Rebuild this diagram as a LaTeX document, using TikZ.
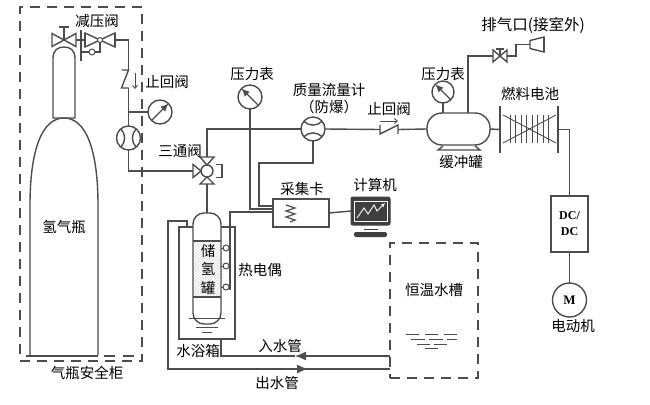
\documentclass[tikz,border=0pt]{standalone}
\usepackage{fontspec}
\setmainfont{Liberation Serif}
\newfontfamily\cjk{Noto Sans CJK SC}
\usepackage{tikz}
\usetikzlibrary{arrows.meta,patterns}
\definecolor{linegray}{HTML}{4D4D4D}
\definecolor{screengray}{HTML}{3F3F3F}
\tikzset{%
  pipe/.style={draw=linegray,line width=1.4pt},
  thinline/.style={draw=linegray,line width=0.9pt},
  flowtip/.style={pipe,-{Latex[length=11pt,width=9pt]}},
  lbl/.style={inner sep=0pt,font=\cjk\fontsize{14.5}{16}\selectfont},
  dashbox/.style={draw=linegray,line width=1.4pt,dash pattern=on 10pt off 7pt,inner sep=0pt,outer sep=0pt},
  solidbox/.style={draw=linegray,line width=1.4pt,inner sep=0pt,outer sep=0pt,fill=white},
  gauge/.style={circle,draw=linegray,line width=1.4pt,minimum size=24pt,inner sep=0pt,outer sep=0pt,fill=white},
  blank/.style={inner sep=0pt,outer sep=0pt},
  needle/.style={draw=linegray,line width=1.2pt,-{Latex[length=8pt,width=7pt]}},
  sensor/.style={circle,draw=linegray,line width=1pt,minimum size=6pt,inner sep=0pt,outer sep=0pt,fill=white},
  waterline/.style={draw=linegray,line width=0.9pt}
}
\begin{document}
\begin{tikzpicture}[x=1pt,y=-1pt]
\useasboundingbox (0,0) rectangle (650,404);

% safety cabinet and cylinder
\node[dashbox,minimum width=122pt,minimum height=354pt] (cabinet) at (81,184) {};
\draw[pipe] (30,355) -- (30,205) .. controls (30,150) and (42,118) .. (64,118)
  .. controls (86,118) and (98,150) .. (98,205) -- (98,355);
\draw[pipe] (53,118) -- (53,58) .. controls (53,50) and (58,47) .. (64,47)
  .. controls (70,47) and (75,50) .. (75,58) -- (75,118) -- cycle;
\draw[draw=linegray,line width=2pt] (26,356) -- (98,356);
\draw[draw=linegray,line width=2.4pt,dash pattern=on 11pt off 8pt] (104,356) -- (136,356);
\node[lbl] (h2label) at (64,227) {氢气瓶};
\node[lbl] (cablabel) at (87,373) {气瓶安全柜};

% cylinder valve and regulator
\node[blank,minimum width=24pt,minimum height=13pt] (mainv) at (64,40) {};
\node[blank,minimum width=30pt,minimum height=14pt] (redv) at (100,40) {};
\coordinate (regbar) at (81,30);
\draw[pipe] (mainv.center) -- ++(0,-13) ++(-5,0) -- ++(10,0);
\draw[pipe] (mainv.east) -- (redv.west);
\draw[pipe] (regbar) -- ++(0,31);
\draw[pipe] (mainv.north west) -- (mainv.south east) -- (mainv.north east) -- (mainv.south west) -- cycle;
\draw[pipe] (redv.north west) -- (redv.south east) -- (redv.north east) -- (redv.south west) -- cycle;
\draw[draw=linegray,line width=2.4pt] (redv.north west) -- (redv.south west);
\draw[draw=linegray,line width=2.4pt] (redv.north east) -- (redv.south east);
\node[sensor] (pilot) at (92,52) {};
\node[sensor,minimum size=5pt] (redcore) at (redv.center) {};
\draw[pipe] (pilot.west) -- (pilot.west -| regbar);
\draw[pipe] (pilot.east) -| (redcore.south);
\node[lbl] (redlabel) at (97,21) {减压阀};

% check valve, gauge and flow meter on the cylinder line
\node[blank,minimum width=7pt,minimum height=18pt] (chka) at (125,79) {};
\draw[pipe] (redv.east) -| (chka.north east);
\draw[pipe] (chka.north west) -- (chka.north east) -- (chka.south west) -- (chka.south east);
\coordinate (chkatip) at (135,89);
\draw[thinline,-{Straight Barb[length=3pt,width=5pt]}] ([yshift=16pt]chkatip) -- (chkatip);
\node[lbl] (chkalabel) at (167,82) {止回阀};
\node[gauge] (flowa) at (128.5,138) {};
\draw[pipe] (chka.south east) -- (flowa.north);
\draw[pipe] (flowa.130) to[bend left=45] (flowa.230);
\draw[pipe] (flowa.50) to[bend right=45] (flowa.310);
\node[gauge] (gaugea) at (160,112) {};
\draw[pipe] (flowa.north |- gaugea.west) -- (gaugea.west);
\draw[needle] (gaugea.225) -- (gaugea.45);

% three way valve
\node[blank,circle,minimum size=12pt] (tv) at (207,171) {};
\coordinate (tvw) at (193,171);
\coordinate (tvn) at (207,157);
\coordinate (tvs) at (207,184);
\draw[pipe,fill=white] (tv.west) -- ++(-8,-6.5) -- ++(0,13) -- cycle;
\draw[pipe,fill=white] (tv.north) -- ++(-7,-8) -- ++(14,0) -- cycle;
\draw[pipe,fill=white] (tv.south) -- ++(-7,7) -- ++(14,0) -- cycle;
\draw[pipe] ([xshift=3pt,yshift=6.5pt]tv.east) -- ([xshift=9pt,yshift=6.5pt]tv.east)
  -- ([xshift=9pt,yshift=-6.5pt]tv.east) -- ([xshift=3pt,yshift=-6.5pt]tv.east);
\node[gauge,minimum size=12pt] (tvcore) at (tv.center) {};
\draw[pipe] (flowa.south) |- (tvw);
\node[lbl] (tvlabel) at (180,151) {三通阀};

% main line to buffer tank
\node[gauge] (flowb) at (313,129) {};
\draw[pipe] (flowb.140) to[bend right=45] (flowb.40);
\draw[pipe] (flowb.220) to[bend left=45] (flowb.320);
\draw[pipe] (tvn) |- (flowb.west);
\node[lbl] (flowlabel) at (329,90) {质量流量计};
\node[lbl] (exlabel) at (329,107) {（防爆）};
\node[gauge] (gaugeb) at (250,97) {};
\draw[needle] (gaugeb.315) -- (gaugeb.135);
\node[lbl] (gaugeblabel) at (252,74) {压力表};
\node[blank,minimum width=18pt,minimum height=9pt] (chkb) at (389,129.5) {};
\draw[pipe] (flowb.east) -- (chkb.west);
\draw[pipe] (chkb.north west) -- (chkb.south west) -- (chkb.north east) -- (chkb.south east);
\coordinate (chkbtip) at (398,121);
\draw[thinline,-{Straight Barb[length=3pt,width=5pt]}] ([xshift=-18pt]chkbtip) -- (chkbtip);
\node[lbl] (chkblabel) at (389,109) {止回阀};

% buffer tank and vent
\node[solidbox,rounded corners=15pt,minimum width=63pt,minimum height=32pt] (buf) at (458.5,129) {};
\draw[pipe] (chkb.east) -- (buf.west);
\draw[pipe] (443,146) -- (438,150) -- (480,150) -- (475,146);
\node[lbl] (buflabel) at (461,162) {缓冲罐};
\node[gauge,minimum size=22pt] (gaugec) at (443,92) {};
\draw[needle] (gaugec.315) -- (gaugec.135);
\draw[pipe] (gaugec.south) -- (gaugec.south |- buf.north);
\node[lbl] (gaugeclabel) at (443,74) {压力表};
\node[blank,minimum width=14pt,minimum height=12pt] (ventv) at (500,56) {};
\draw[pipe] (ventv.center) -- ++(0,-7) ++(-4,0) -- ++(8,0);
\draw[pipe] (ventv.north west) -- (ventv.south east) -- (ventv.north east) -- (ventv.south west) -- cycle;
\draw[pipe] ([xshift=9.5pt]buf.north) |- (ventv.west);
\node[blank,minimum width=14pt,minimum height=15pt] (horn) at (537,44.5) {};
\draw[pipe] (ventv.east) -- ++(9,0) |- (horn.west);
\draw[pipe] ([yshift=-3.5pt]horn.north west) -- (horn.north east) -- (horn.south east) -- ([yshift=3.5pt]horn.south west) -- cycle;
\draw[draw=linegray,line width=2.4pt] (horn.north east) -- (horn.south east);
\node[lbl,font=\cjk\fontsize{15.5}{17}\selectfont] (ventlabel) at (533,25) {排气口(接室外)};

% fuel cell, converter and motor
\node[blank,minimum width=58pt,minimum height=47pt] (fc) at (529,129.5) {};
\draw[pipe] (fc.north west) -- (fc.south west);
\draw[pipe] (fc.north east) -- (fc.south east);
\foreach \x in {510,515.5,521,526.5,532,537.5,543,548}{
  \draw[thinline] (\x,115) -- (\x,143);
}
\draw[thinline] (503,115) -- (556,143);
\draw[thinline] (503,143) -- (556,115);
\draw[pipe] (buf.east) -- (fc.west);
\node[lbl] (fclabel) at (530,94) {燃料电池};
\node[solidbox,minimum width=37pt,minimum height=56pt,align=center,font=\bfseries\fontsize{12}{16}\selectfont] (dc) at (569.5,224) {DC/\\DC};
\draw[pipe] (fc.east) -| (dc.north);
\node[gauge,minimum size=34pt,font=\bfseries\fontsize{13}{15}\selectfont] (motor) at (569.5,300) {M};
\draw[pipe] (dc.south) -- (motor.north);
\node[lbl] (motorlabel) at (573,326) {电动机};

% water bath and storage tank
\node[solidbox,minimum width=56pt,minimum height=112pt] (bath) at (207,283) {};
\node[solidbox,rounded corners=11pt,minimum width=28pt,minimum height=111pt] (tank) at (207,268.5) {};
\fill[pattern=north east lines,pattern color=gray!30] (194,242) rectangle (220,296);
\draw[pipe] (tank.west |- 0,241) -- (tank.east |- 0,241);
\draw[pipe] (tank.west |- 0,297) -- (tank.east |- 0,297);
\draw[pipe] (tvs) -- (tank.north);
\node[lbl] (tanka) at (208,251) {储};
\node[lbl] (tankb) at (208,269) {氢};
\node[lbl] (tankc) at (208,288) {罐};
\draw[thinline] (189,318) -- (225,318);
\draw[thinline] (196,327) -- (218,327);
\draw[thinline] (202,332) -- (212,332);
\node[lbl] (bathlabel) at (198,351) {水浴箱};
\node[sensor] (tca) at (226,248) {};
\node[sensor] (tcb) at (226,266) {};
\node[sensor] (tcc) at (226,287) {};
\node[lbl] (tclabel) at (260,270) {热电偶};

% data acquisition and computer
\node[solidbox,minimum width=56pt,minimum height=28pt] (daq) at (301,213) {};
\draw[thinline,line width=1.2pt] (286,205) -- (295,208) -- (286,211) -- (295,214) -- (286,217) -- (295,220) -- (290,222);
\node[lbl] (daqlabel) at (302,189) {采集卡};
\node[draw=screengray,fill=screengray,rounded corners=2pt,line width=1pt,minimum width=39pt,minimum height=28pt,blank] (pc) at (370.5,211) {};
\node[draw=white,fill=screengray,line width=0.7pt,minimum width=33pt,minimum height=20pt,blank] (screen) at (pc.center) {};
\draw[white,line width=0.9pt,-{Latex[length=4pt,width=4pt]}] (357,218) -- (364,208) -- (368,214) -- (374,205) -- (377,211) -- (385,203);
\draw[draw=screengray,line width=1pt] (364,229) -- (378,229);
\fill[screengray,rounded corners=2pt] (354,237) -- (354,232) -- (387,232) -- (387,237) -- cycle;
\node[lbl] (pclabel) at (375,185) {计算机};
\draw[pipe] (daq.east) -- (pc.west);
\draw[pipe] (gaugeb.south) |- ([yshift=4pt]daq.west);
\coordinate (bendb) at (259,163);
\draw[pipe] (flowb.south) |- (bendb) |- ([yshift=7pt]daq.west);
\coordinate (tcend) at (230,290);
\draw[pipe] ([yshift=1pt]daq.west) -| (tcend);
\foreach \s in {tca,tcb,tcc}{
  \draw[thinline] (\s.east) -- (\s.east -| tcend);
  \draw[thinline] (\s.west) -- (\s.west -| tank.east);
}

% thermostatic tank and water lines
\node[dashbox,minimum width=88pt,minimum height=135pt] (hot) at (434,310.5) {};
\node[lbl] (hotlabel) at (434,290) {恒温水槽};
\draw[waterline,dash pattern=on 13pt off 6pt] (406,334) -- (458,334);
\draw[waterline,dash pattern=on 14pt off 4pt] (411,339) -- (457,339);
\draw[waterline,dash pattern=on 13pt off 4pt] (417,344) -- (449,344);
\draw[waterline] (425,348) -- (438,348);
\coordinate (inarrow) at (295,356);
\coordinate (outarrow) at (308,369);
\coordinate (outc) at (168,221);
\draw[flowtip] ([yshift=-45.5pt]hot.west) -- (inarrow);
\draw[pipe] (inarrow) -- (inarrow -| 221,0) -- ([xshift=14pt]bath.south);
\draw[pipe] ([xshift=-20pt]bath.north) |- (outc) |- (outarrow);
\draw[flowtip] ([xshift=-12pt]outarrow) -- (outarrow);
\draw[pipe] (outarrow) -- ([yshift=-58.5pt]hot.west);
\node[lbl] (inlabel) at (280,346) {入水管};
\node[lbl] (outlabel) at (277,383) {出水管};
\end{tikzpicture}
\end{document}
